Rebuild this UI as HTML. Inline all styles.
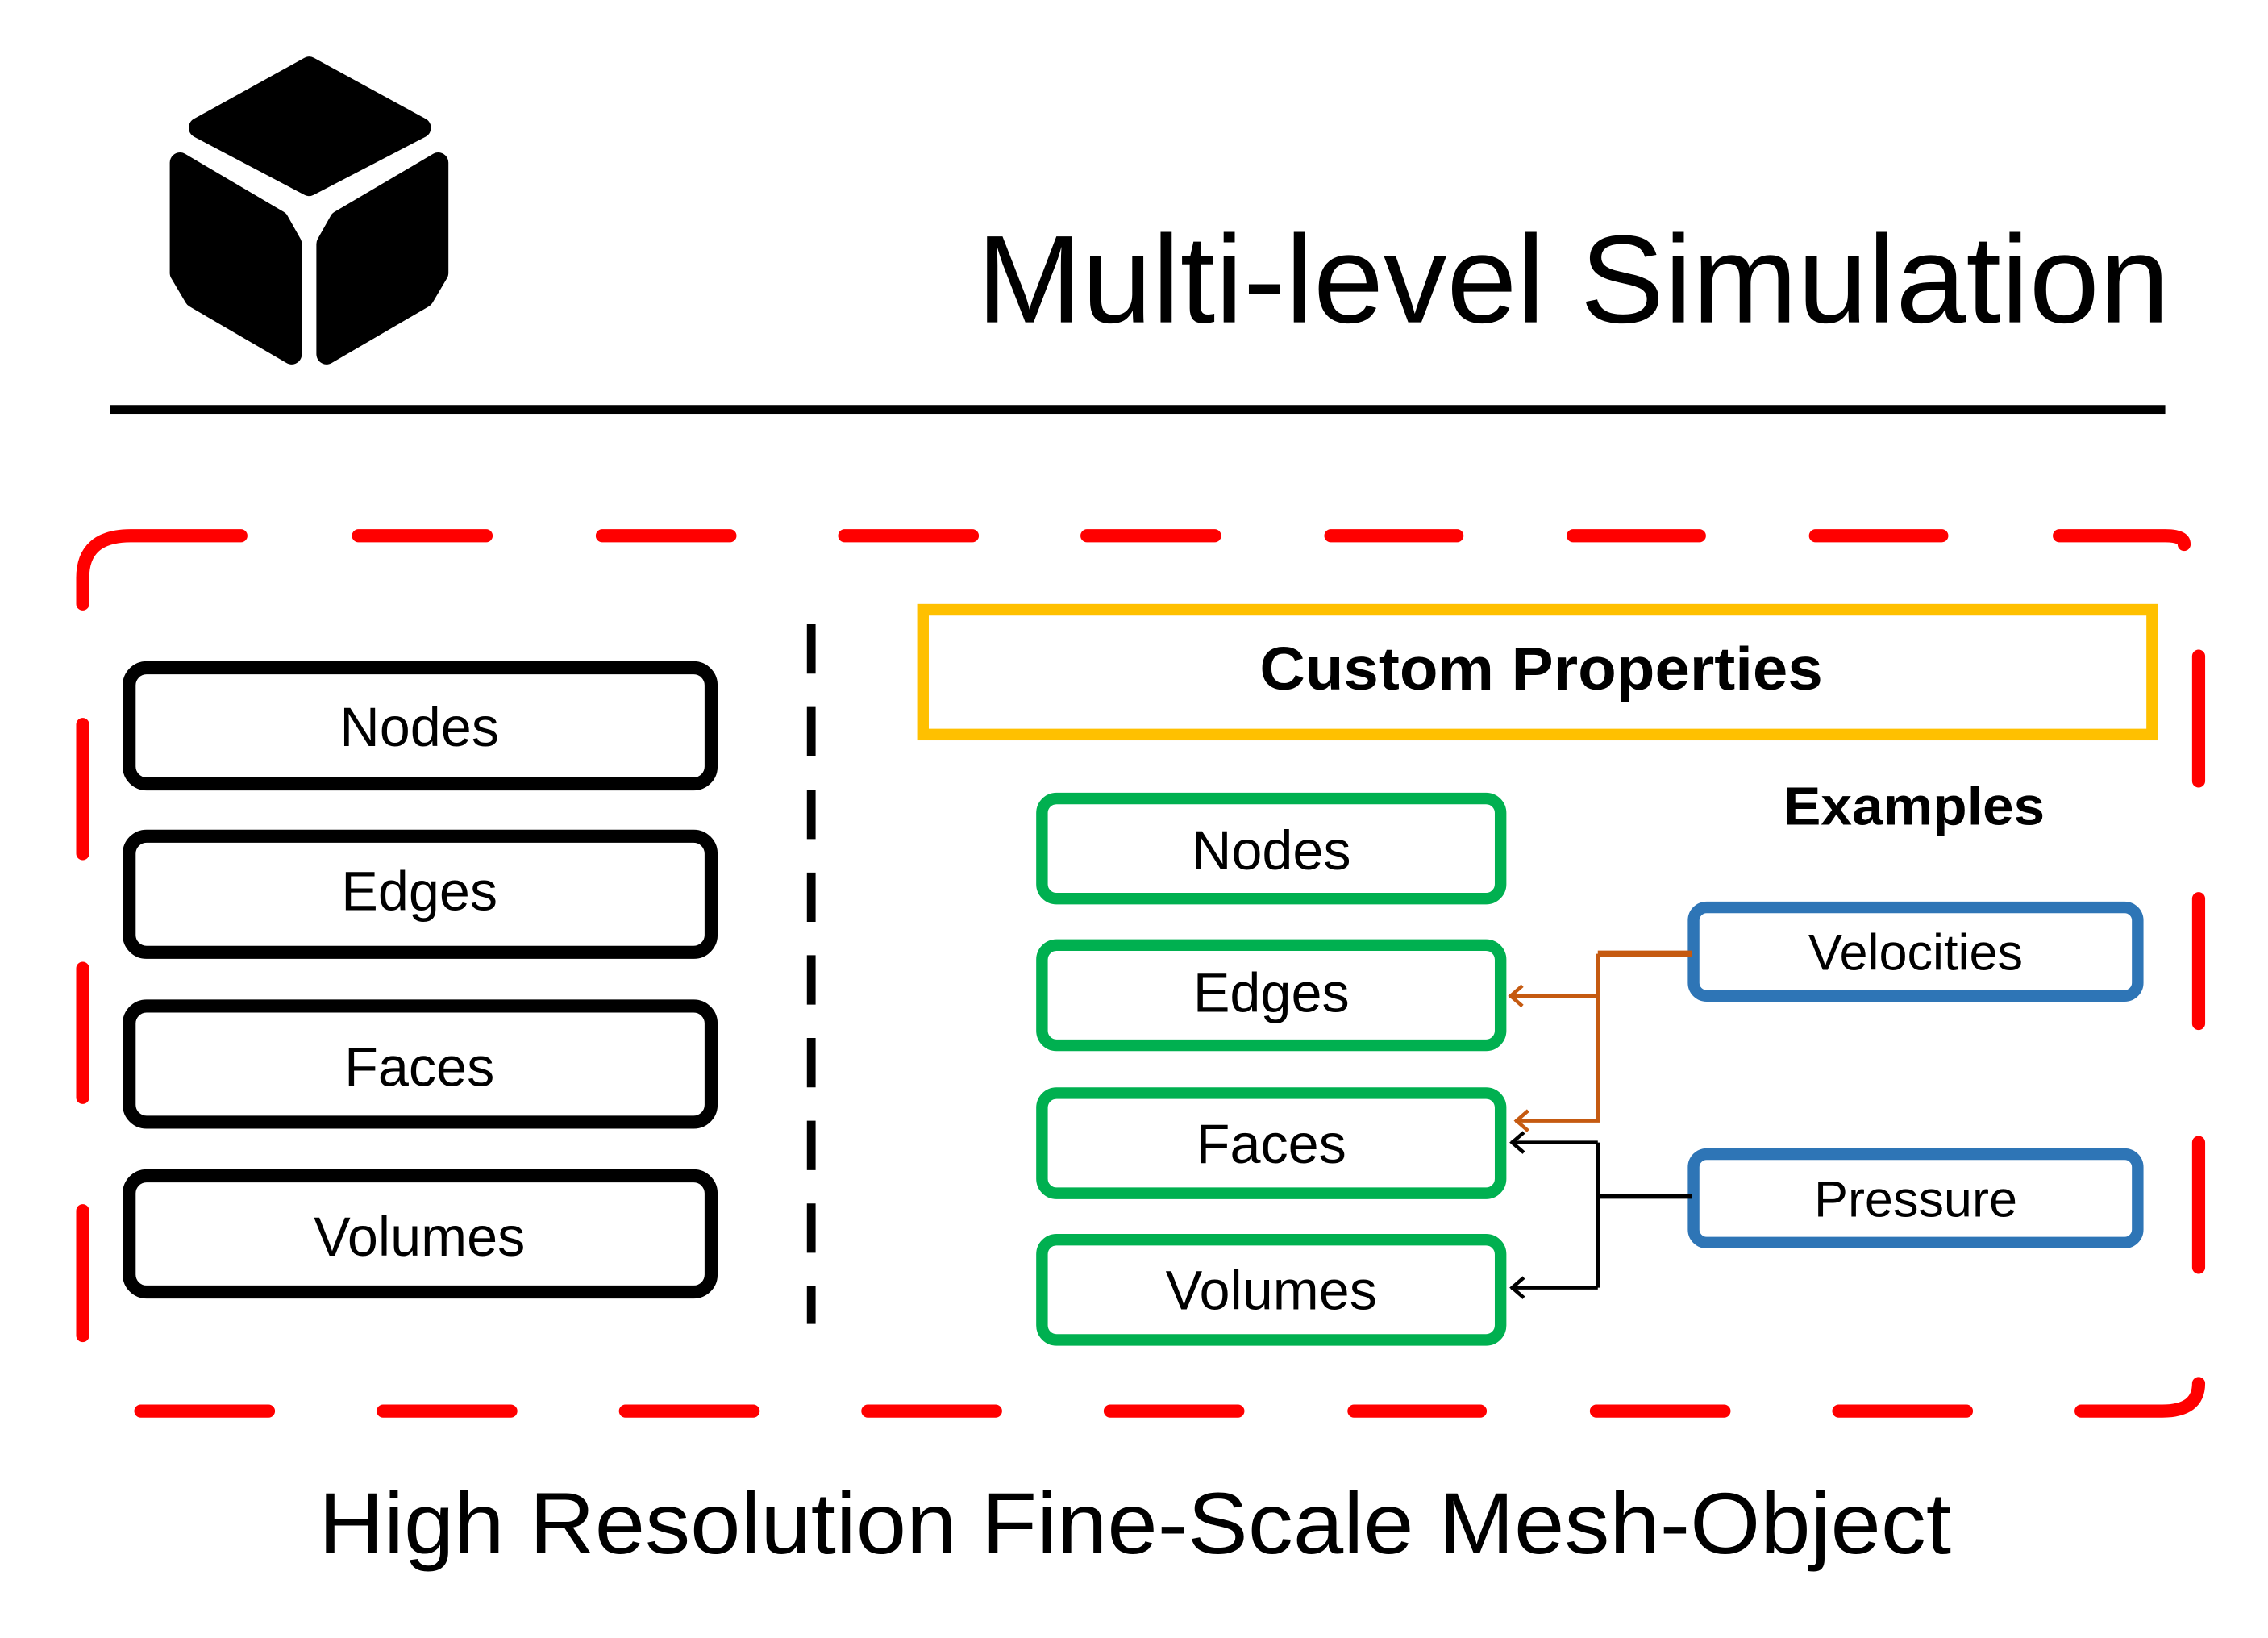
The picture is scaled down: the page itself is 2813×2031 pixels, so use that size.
<!DOCTYPE html>
<html><head><meta charset="utf-8"><style>
html,body{margin:0;padding:0;background:#fff;}
svg{display:block;}
text{font-family:"Liberation Sans",sans-serif;}
</style></head><body>
<svg width="2813" height="2031" viewBox="0 0 1562.8 1128.3" xmlns="http://www.w3.org/2000/svg">
<rect width="1562.8" height="1128.3" fill="#fff"/>
<!-- cube icon -->
<g fill="#000" stroke="#000" stroke-width="14" stroke-linejoin="round">
<polygon points="213,46 290,88 213,128 137,88"/>
<polygon points="124,112 192,152 201,168 201,244 134,205 124,188"/>
<polygon points="302,112 234,152 225,168 225,244 292,205 302,188"/>
</g>
<text x="1495" y="222" font-size="86" text-anchor="end" textLength="822" lengthAdjust="spacingAndGlyphs">Multi-level Simulation</text>
<rect x="76" y="279" width="1416" height="6" fill="#000"/>

<!-- red dashed border -->
<g stroke="#FF0000" stroke-width="9" stroke-linecap="round" fill="none">
<path d="M57,416 L57,398 Q57,369 90,369 L166,369"/>
<path d="M247,369H335M415,369H503M582,369H670M749,369H837M917,369H1004M1084,369H1171M1251,369H1338"/>
<path d="M1419,369 L1492,369 Q1505,369 1505,375"/>
<path d="M1515,452V538M1515,619V705M1515,787V873"/>
<path d="M1515,953 Q1515,972 1490,972 L1434,972"/>
<path d="M97,972H185M264,972H352M431,972H519M598,972H686M765,972H853M933,972H1020M1100,972H1188M1267,972H1355"/>
<path d="M57,499V588M57,667V756M57,834V920"/>
</g>
<!-- black dashed divider -->
<line x1="559" y1="430" x2="559" y2="912" stroke="#000" stroke-width="6" stroke-dasharray="34,23"/>

<!-- left boxes -->
<g fill="none" stroke="#000" stroke-width="9">
<rect x="89" y="460" width="401" height="80" rx="12"/>
<rect x="89" y="576" width="401" height="80" rx="12"/>
<rect x="89" y="693" width="401" height="80" rx="12"/>
<rect x="89" y="810" width="401" height="80" rx="12"/>
</g>
<g font-size="38" text-anchor="middle" fill="#000">
<text x="289" y="514">Nodes</text>
<text x="289" y="627">Edges</text>
<text x="289" y="748">Faces</text>
<text x="289" y="865">Volumes</text>
</g>

<!-- custom properties -->
<rect x="636" y="420" width="847" height="86" fill="none" stroke="#FFC000" stroke-width="8"/>
<text x="1062" y="475" font-size="42" font-weight="bold" text-anchor="middle" textLength="388" lengthAdjust="spacingAndGlyphs">Custom Properties</text>
<text x="1319" y="568" font-size="37" font-weight="bold" text-anchor="middle" textLength="180" lengthAdjust="spacingAndGlyphs">Examples</text>

<!-- green boxes -->
<g fill="none" stroke="#00B050" stroke-width="8">
<rect x="718" y="550" width="316" height="69" rx="10"/>
<rect x="718" y="651" width="316" height="69" rx="10"/>
<rect x="718" y="753" width="316" height="69" rx="10"/>
<rect x="718" y="854" width="316" height="69" rx="10"/>
</g>
<g font-size="38" text-anchor="middle" fill="#000">
<text x="876" y="599">Nodes</text>
<text x="876" y="697">Edges</text>
<text x="876" y="801">Faces</text>
<text x="876" y="902">Volumes</text>
</g>

<!-- blue boxes -->
<g fill="none" stroke="#2E75B6" stroke-width="8">
<rect x="1167" y="625" width="306" height="61" rx="9"/>
<rect x="1167" y="795" width="306" height="61" rx="9"/>
</g>
<g font-size="35" text-anchor="middle" fill="#000">
<text x="1320" y="668">Velocities</text>
<text x="1320" y="838">Pressure</text>
</g>

<!-- orange connectors -->
<g stroke="#C55A11" fill="none">
<path d="M1166,657 H1101" stroke-width="4.5"/>
<path d="M1101,657 V772 H1044 M1101,686 H1040" stroke-width="2.5"/>
<path d="M1049,679 L1041,686 L1049,693 M1053,765 L1045,772 L1053,779" stroke-width="2.5"/>
</g>
<!-- black connectors -->
<g stroke="#000" fill="none" stroke-width="2.5">
<path d="M1166,824 H1101" stroke-width="3.5"/>
<path d="M1101,787 V887 M1101,787 H1041 M1101,887 H1041"/>
<path d="M1050,780 L1042,787 L1050,794 M1050,880 L1042,887 L1050,894"/>
</g>

<text x="782" y="1070" font-size="60" text-anchor="middle" textLength="1125" lengthAdjust="spacingAndGlyphs">High Resolution Fine-Scale Mesh-Object</text>
</svg>
</body></html>
